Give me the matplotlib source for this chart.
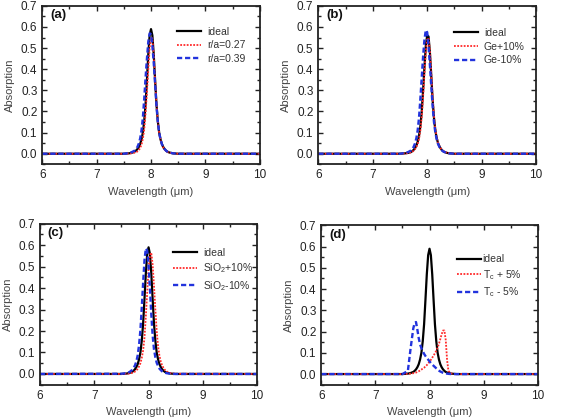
import matplotlib
matplotlib.use("Agg")
import matplotlib.pyplot as plt
from matplotlib.ticker import MultipleLocator, FormatStrFormatter

plt.rcParams['font.family'] = ['Liberation Sans', 'DejaVu Sans']
plt.rcParams['mathtext.default'] = 'regular'

# shared wavelength grid (um)
wl = [6.0, 7.5, 7.6, 7.65, 7.7, 7.725, 7.75, 7.775, 7.8, 7.825, 7.85, 7.875,
      7.9, 7.925, 7.95, 7.975, 8.0, 8.025, 8.05, 8.075, 8.1, 8.125, 8.15,
      8.175, 8.2, 8.225, 8.25, 8.275, 8.3, 8.325, 8.35, 8.4, 8.45, 8.5, 10.0]

ideal = [0, 0, 0.002, 0.005, 0.01, 0.015, 0.022, 0.032, 0.046, 0.068, 0.1, 0.155,
         0.235, 0.35, 0.47, 0.56, 0.59, 0.56, 0.47, 0.35, 0.235, 0.155, 0.1,
         0.068, 0.046, 0.032, 0.022, 0.015, 0.01, 0.007, 0.005, 0.002, 0.001, 0, 0]

# (a)
ra027 = [0, 0, 0.001, 0.002, 0.005, 0.007, 0.011, 0.017, 0.027, 0.043, 0.07, 0.115,
         0.19, 0.29, 0.4, 0.5, 0.55, 0.545, 0.47, 0.355, 0.24, 0.155, 0.1,
         0.066, 0.044, 0.03, 0.02, 0.014, 0.009, 0.006, 0.004, 0.002, 0.001, 0, 0]
ra039 = [0, 0, 0.004, 0.008, 0.015, 0.022, 0.032, 0.048, 0.072, 0.11, 0.17, 0.26,
         0.36, 0.45, 0.53, 0.57, 0.565, 0.51, 0.43, 0.33, 0.23, 0.15, 0.1,
         0.068, 0.046, 0.032, 0.022, 0.015, 0.01, 0.007, 0.005, 0.002, 0.001, 0, 0]

# (b)
ideal_b = [0, 0, 0.002, 0.004, 0.008, 0.012, 0.018, 0.026, 0.038, 0.056, 0.085, 0.13,
           0.2, 0.3, 0.41, 0.51, 0.56, 0.555, 0.48, 0.37, 0.255, 0.17, 0.11,
           0.074, 0.05, 0.035, 0.024, 0.016, 0.011, 0.008, 0.005, 0.002, 0.001, 0, 0]
ge_p10 = [0, 0, 0.001, 0.003, 0.006, 0.009, 0.014, 0.021, 0.031, 0.046, 0.07, 0.11,
          0.175, 0.27, 0.38, 0.48, 0.54, 0.548, 0.49, 0.385, 0.27, 0.18, 0.118,
          0.078, 0.053, 0.037, 0.025, 0.017, 0.012, 0.008, 0.006, 0.003, 0.001, 0, 0]
ge_m10 = [0, 0, 0.004, 0.008, 0.015, 0.022, 0.032, 0.048, 0.072, 0.11, 0.17, 0.26,
          0.36, 0.46, 0.54, 0.585, 0.575, 0.51, 0.42, 0.32, 0.225, 0.15, 0.1,
          0.068, 0.046, 0.032, 0.022, 0.015, 0.01, 0.007, 0.005, 0.002, 0.001, 0, 0]

# (c)
sio_p10 = [0, 0, 0.001, 0.002, 0.005, 0.008, 0.011, 0.016, 0.024, 0.035, 0.05, 0.075,
           0.11, 0.17, 0.27, 0.38, 0.49, 0.555, 0.565, 0.51, 0.41, 0.3, 0.2,
           0.13, 0.085, 0.058, 0.04, 0.028, 0.019, 0.013, 0.009, 0.004, 0.002, 0.001, 0]
sio_m10 = [0, 0.001, 0.004, 0.009, 0.019, 0.028, 0.04, 0.058, 0.087, 0.135, 0.205, 0.31,
           0.425, 0.53, 0.585, 0.575, 0.505, 0.4, 0.28, 0.18, 0.115, 0.078, 0.052,
           0.037, 0.025, 0.018, 0.012, 0.008, 0.006, 0.004, 0.003, 0.001, 0, 0, 0]

# (d)
tc_p5 = [0, 0, 0.001, 0.002, 0.004, 0.005, 0.007, 0.01, 0.013, 0.017, 0.021, 0.026,
         0.03, 0.036, 0.042, 0.05, 0.058, 0.067, 0.077, 0.087, 0.098, 0.11, 0.125,
         0.143, 0.165, 0.188, 0.205, 0.205, 0.16, 0.065, 0.015, 0.003, 0.001, 0, 0]
tc_m5 = [0, 0, 0.015, 0.12, 0.215, 0.24, 0.245, 0.21, 0.17, 0.14, 0.122, 0.108,
         0.095, 0.085, 0.076, 0.068, 0.06, 0.052, 0.045, 0.039, 0.033, 0.027, 0.021,
         0.016, 0.012, 0.009, 0.006, 0.004, 0.003, 0.002, 0.001, 0, 0, 0, 0]

panels = [
    dict(tag='(a)', pos=[0.075, 0.606, 0.3855, 0.380],
         series=[(ideal, 'ideal'), (ra027, 'r/a=0.27'), (ra039, 'r/a=0.39')],
         leg=(0.62, 0.868), hpad=0.6),
    dict(tag='(b)', pos=[0.5644, 0.606, 0.386, 0.380],
         series=[(ideal_b, 'ideal'), (ge_p10, 'Ge+10%'), (ge_m10, 'Ge-10%')],
         leg=(0.622, 0.86), hpad=0.6),
    dict(tag='(c)', pos=[0.0709, 0.0775, 0.385, 0.386],
         series=[(ideal, 'ideal'), (sio_p10, 'SiO$_2$+10%'), (sio_m10, 'SiO$_2$-10%')],
         leg=(0.612, 0.851), hpad=0.6),
    dict(tag='(d)', pos=[0.5697, 0.0775, 0.3837, 0.382],
         series=[(ideal, 'ideal'), (tc_p5, 'T$_c$ + 5%'), (tc_m5, 'T$_c$ - 5%')],
         leg=(0.627, 0.818), hpad=0.15),
]

styles = [dict(color='black', lw=1.6, ls='-'),
          dict(color='#ff2a2a', lw=1.3, ls=(0, (1, 0.8))),
          dict(color='#2233dd', lw=1.7, ls=(0, (2.2, 1.2)))]

fig = plt.figure(figsize=(5.64, 4.17), dpi=100)
for p in panels:
    ax = fig.add_axes(p['pos'])
    for (vals, lab), st in zip(p['series'], styles):
        ax.plot(wl, vals, label=lab, **st)
    ax.set_xlim(6, 10)
    ax.set_ylim(-0.05, 0.7)
    ax.xaxis.set_major_locator(MultipleLocator(1))
    ax.xaxis.set_minor_locator(MultipleLocator(0.5))
    ax.yaxis.set_major_locator(MultipleLocator(0.1))
    ax.yaxis.set_minor_locator(MultipleLocator(0.05))
    ax.yaxis.set_major_formatter(FormatStrFormatter('%.1f'))
    ax.tick_params(which='both', direction='in', top=True, right=True,
                   labelsize=8.5, colors='#222222', width=1.0)
    ax.tick_params(which='major', length=3.5)
    ax.tick_params(which='minor', length=2)
    for s in ax.spines.values():
        s.set_linewidth(1.3)
        s.set_color('#222222')
    ax.set_xlabel('Wavelength (\u03bcm)', fontsize=8, color='#444444', labelpad=4)
    ax.set_ylabel('Absorption', fontsize=8, color='#444444', labelpad=4)
    ax.text(0.035, 0.94, p['tag'], transform=ax.transAxes, fontsize=9.5,
            fontweight='bold', va='center', ha='left', color='#111111')
    ax.legend(loc='upper left', bbox_to_anchor=p['leg'], frameon=False,
              fontsize=7.5, handlelength=2.3, handletextpad=p['hpad'],
              borderpad=0, borderaxespad=0, labelspacing=0.35,
              labelcolor='#333333')

fig.savefig('out.png', dpi=100)
